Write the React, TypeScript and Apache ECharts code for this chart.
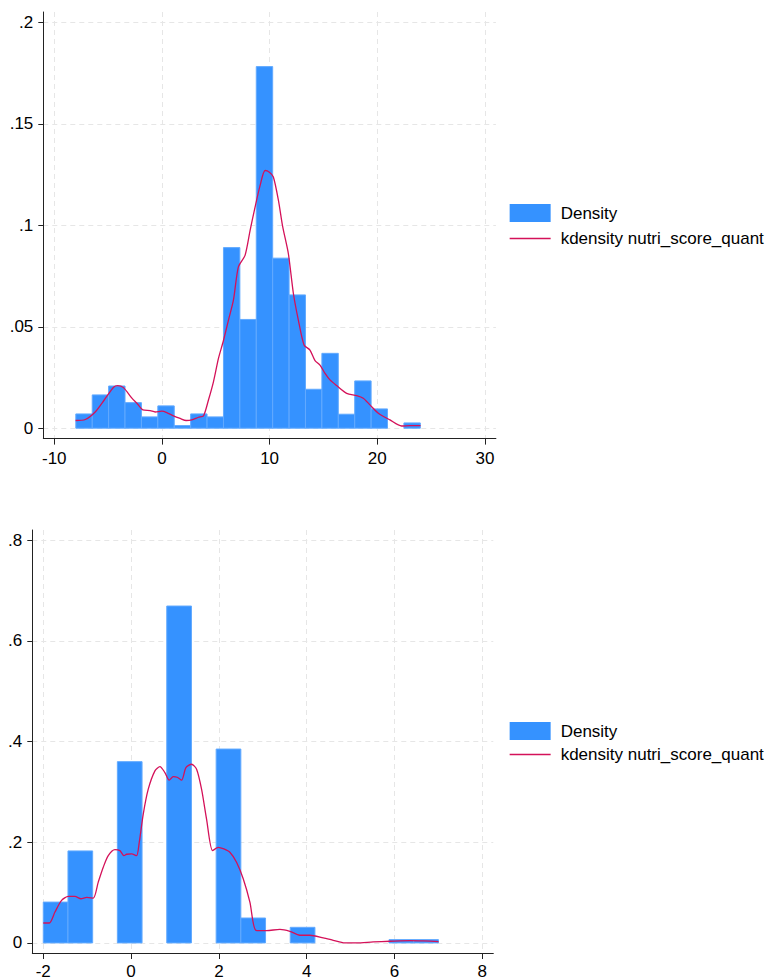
import React, { useEffect, useRef } from "react";
import * as echarts from "echarts";

// ---------- Top panel data ----------
const topBinEdges = [-8, -6.476, -4.952, -3.429, -1.905, -0.381, 1.143, 2.667, 4.19, 5.714, 7.238, 8.762, 10.286, 11.81, 13.333, 14.857, 16.381, 17.905, 19.429, 20.952, 22.476, 24];
const topDensity = [0.00704, 0.0164, 0.0208, 0.0126, 0.00557, 0.011, 0.0013, 0.00704, 0.00557, 0.089, 0.0536, 0.1782, 0.0838, 0.0657, 0.0192, 0.0369, 0.0069, 0.0233, 0.0095, 0, 0.0026];
const topKdeX = [-8.02, -7.12, -6.2, -5.36, -4.49, -4.12, -3.57, -2.79, -2.33, -1.77, -1.09, -0.63, -0.01, 0.45, 1.07, 1.69, 2.25, 2.77, 3.39, 3.86, 4.32, 4.79, 5.25, 5.71, 6.18, 6.64, 7.1, 7.72, 8.19, 8.65, 9.12, 9.58, 9.98, 10.35, 10.82, 11.22, 11.74, 12.21, 12.67, 13.2, 13.75, 14.22, 14.68, 15.15, 15.61, 16.23, 17.16, 18.09, 18.7, 19.32, 20.1, 21.18, 22.26, 23.03, 24.02];
const topKdeY = [0.0038, 0.0043, 0.008, 0.0139, 0.0202, 0.021, 0.02, 0.0148, 0.0123, 0.009, 0.0087, 0.008, 0.0084, 0.0077, 0.0061, 0.0048, 0.0038, 0.0041, 0.0054, 0.0061, 0.0139, 0.023, 0.0344, 0.0431, 0.0533, 0.0631, 0.0795, 0.0852, 0.0975, 0.109, 0.1197, 0.127, 0.1262, 0.1238, 0.1123, 0.0992, 0.0861, 0.0664, 0.0533, 0.041, 0.0385, 0.0333, 0.0311, 0.027, 0.0238, 0.021, 0.0172, 0.0161, 0.0148, 0.0115, 0.0074, 0.0041, 0.0011, 0.0013, 0.0013];
const topXTicks = [-10, 0, 10, 20, 30];
const topXTickLabels = ["-10", "0", "10", "20", "30"];
const topYTicks = [0, 0.05, 0.1, 0.15, 0.2];
const topYTickLabels = ["0", ".05", ".1", ".15", ".2"];

// ---------- Bottom panel data ----------
const botBinEdges = [-2, -1.4375, -0.875, -0.3125, 0.25, 0.8125, 1.375, 1.9375, 2.5, 3.0625, 3.625, 4.1875, 4.75, 5.3125, 5.875, 6.4375, 7];
const botDensity = [0.0811, 0.1827, 0, 0.36, 0, 0.669, 0, 0.385, 0.0495, 0, 0.031, 0, 0, 0, 0.0066, 0.0066];
const botKdeX = [-2.0, -1.863, -1.734, -1.583, -1.431, -1.279, -1.142, -1.013, -0.861, -0.748, -0.634, -0.52, -0.368, -0.254, -0.163, -0.102, 0.011, 0.125, 0.186, 0.277, 0.391, 0.543, 0.657, 0.77, 0.869, 0.96, 1.051, 1.15, 1.249, 1.378, 1.492, 1.605, 1.719, 1.856, 1.985, 2.114, 2.25, 2.402, 2.554, 2.706, 2.843, 3.085, 3.389, 3.617, 3.844, 4.072, 4.376, 4.603, 4.869, 5.135, 5.514, 5.894, 6.349, 6.653, 7.002];
const botKdeY = [0.0396, 0.0396, 0.0613, 0.0844, 0.0923, 0.0923, 0.0877, 0.0903, 0.089, 0.1207, 0.1503, 0.1734, 0.1853, 0.1833, 0.1734, 0.1761, 0.1767, 0.1734, 0.1998, 0.2559, 0.3053, 0.3416, 0.3501, 0.3383, 0.3231, 0.3304, 0.329, 0.3231, 0.3482, 0.3548, 0.3449, 0.3053, 0.246, 0.1833, 0.1899, 0.1866, 0.18, 0.1602, 0.1273, 0.0811, 0.0251, 0.0244, 0.027, 0.0231, 0.0152, 0.0152, 0.0099, 0.0053, 0, 0, 0.002, 0.0033, 0.0046, 0.004, 0.0026];
const botXTicks = [-2, 0, 2, 4, 6, 8];
const botXTickLabels = ["-2", "0", "2", "4", "6", "8"];
const botYTicks = [0, 0.2, 0.4, 0.6, 0.8];
const botYTickLabels = ["0", ".2", ".4", ".6", ".8"];

const legendNames = ["Density", "kdensity nutri_score_quant"];

const BAR_COLOR = "#3592ff";
const BAR_BORDER = "#62aaff";
const LINE_COLOR = "#d41159";
const FONT = "'Liberation Sans', Arial, Helvetica, sans-serif";

function buildBins(edges: number[], dens: number[]) {
  return dens.map((d, i) => [edges[i], edges[i + 1], d]);
}
function buildLine(xs: number[], ys: number[]) {
  return xs.map((x, i) => [x, ys[i]]);
}
function labelFor(ticks: number[], labels: string[]) {
  return (v: number) => {
    for (let i = 0; i < ticks.length; i++) {
      if (Math.abs(ticks[i] - v) < 1e-9) return labels[i];
    }
    return "";
  };
}

const renderBar = (params: any, api: any) => {
  const x0 = api.value(0);
  const x1 = api.value(1);
  const h = api.value(2);
  if (!(h > 0)) return { type: "group", children: [] };
  const p0 = api.coord([x0, h]);
  const p1 = api.coord([x1, 0]);
  return {
    type: "rect",
    shape: { x: p0[0], y: p0[1], width: p1[0] - p0[0], height: p1[1] - p0[1] },
    style: { fill: BAR_COLOR, stroke: BAR_BORDER, lineWidth: 1 },
  };
};

function xAxisCfg(gridIndex: number, min: number, max: number, ticks: number[], labels: string[], margin: number) {
  return {
    type: "value",
    gridIndex,
    min,
    max,
    axisLine: { show: true, onZero: false, lineStyle: { color: "#222", width: 1 } },
    axisTick: { show: true, length: 6, customValues: ticks, lineStyle: { color: "#222", width: 1 } },
    axisLabel: {
      customValues: ticks,
      formatter: labelFor(ticks, labels),
      color: "#000",
      fontFamily: FONT,
      fontSize: 17,
      margin,
    },
    splitLine: { show: true, lineStyle: { color: "#e6e6e6", width: 1, type: [5, 4] } },
  };
}
function yAxisCfg(gridIndex: number, min: number, max: number, ticks: number[], labels: string[]) {
  return {
    type: "value",
    gridIndex,
    min,
    max,
    axisLine: { show: true, onZero: false, lineStyle: { color: "#222", width: 1 } },
    axisTick: { show: true, length: 5, customValues: ticks, lineStyle: { color: "#222", width: 1 } },
    axisLabel: {
      customValues: ticks,
      formatter: labelFor(ticks, labels),
      color: "#000",
      fontFamily: FONT,
      fontSize: 17,
      margin: 10,
    },
    splitLine: { show: true, lineStyle: { color: "#e6e6e6", width: 1, type: [5, 4] } },
  };
}

function legendCfg(top: number, gap: number) {
  return {
    orient: "vertical",
    left: 509,
    top,
    padding: 0,
    itemWidth: 41,
    itemHeight: 18,
    itemGap: gap,
    selectedMode: false,
    textStyle: { fontFamily: FONT, fontSize: 17, color: "#000", padding: [0, 0, 0, 5] },
    data: [
      { name: legendNames[0], icon: "rect", itemStyle: { color: BAR_COLOR, borderWidth: 0 } },
      {
        name: legendNames[1],
        itemStyle: { opacity: 0 },
        lineStyle: { color: LINE_COLOR, width: 1.3, opacity: 1 },
      },
    ],
  };
}

export default function App() {
  const ref = useRef<HTMLDivElement>(null);
  useEffect(() => {
    if (!ref.current) return;
    const chart = echarts.init(ref.current, undefined, { renderer: "svg" });
    const option: any = {
      animation: false,
      backgroundColor: "#fff",
      textStyle: { fontFamily: FONT },
      grid: [
        { left: 43.3, top: 12, width: 452.6, height: 426.6, containLabel: false },
        { left: 32.3, top: 530, width: 461, height: 424.5, containLabel: false },
      ],
      xAxis: [
        xAxisCfg(0, -11.02, 31.02, topXTicks, topXTickLabels, 11),
        xAxisCfg(1, -2.25, 8.25, botXTicks, botXTickLabels, 10),
      ],
      yAxis: [
        yAxisCfg(0, -0.00512, 0.20512, topYTicks, topYTickLabels),
        yAxisCfg(1, -0.02, 0.82, botYTicks, botYTickLabels),
      ],
      legend: [legendCfg(204, 8), legendCfg(722, 6)],
      series: [
        {
          name: legendNames[0],
          type: "custom",
          xAxisIndex: 0,
          yAxisIndex: 0,
          renderItem: renderBar,
          itemStyle: { color: BAR_COLOR },
          encode: { x: [0, 1], y: 2 },
          data: buildBins(topBinEdges, topDensity),
          z: 2,
        },
        {
          name: legendNames[1],
          type: "line",
          xAxisIndex: 0,
          yAxisIndex: 0,
          symbol: "none",
          smooth: 0.25,
          lineStyle: { color: LINE_COLOR, width: 1.3 },
          itemStyle: { color: LINE_COLOR },
          data: buildLine(topKdeX, topKdeY),
          z: 3,
        },
        {
          name: legendNames[0],
          type: "custom",
          xAxisIndex: 1,
          yAxisIndex: 1,
          renderItem: renderBar,
          itemStyle: { color: BAR_COLOR },
          encode: { x: [0, 1], y: 2 },
          data: buildBins(botBinEdges, botDensity),
          z: 2,
        },
        {
          name: legendNames[1],
          type: "line",
          xAxisIndex: 1,
          yAxisIndex: 1,
          symbol: "none",
          smooth: 0.25,
          lineStyle: { color: LINE_COLOR, width: 1.3 },
          itemStyle: { color: LINE_COLOR },
          data: buildLine(botKdeX, botKdeY),
          z: 3,
        },
      ],
    };
    chart.setOption(option);
    return () => chart.dispose();
  }, []);
  return (
    <div
      ref={ref}
      style={{ position: "absolute", left: 0, top: 0, width: 770, height: 980, background: "#fff" }}
    />
  );
}
